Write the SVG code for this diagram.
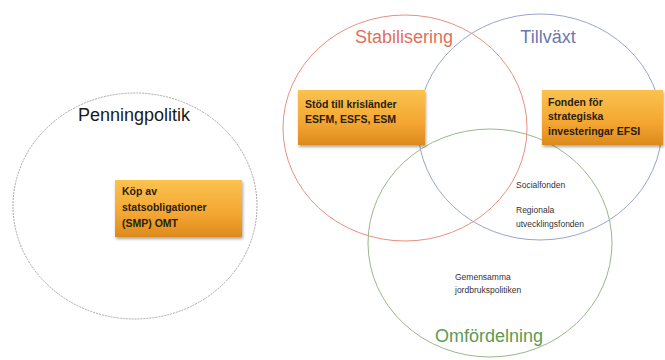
<svg xmlns="http://www.w3.org/2000/svg" width="665" height="360" viewBox="0 0 665 360">
  <defs>
    <linearGradient id="og" x1="0" y1="0" x2="0" y2="1">
      <stop offset="0" stop-color="#FBC24E"/>
      <stop offset="0.6" stop-color="#F3A632"/>
      <stop offset="1" stop-color="#DD8A1C"/>
    </linearGradient>
    <filter id="sh" x="-10%" y="-20%" width="125%" height="150%">
      <feGaussianBlur in="SourceAlpha" stdDeviation="1.5"/>
      <feOffset dx="1" dy="2"/>
      <feComponentTransfer><feFuncA type="linear" slope="0.35"/></feComponentTransfer>
      <feMerge><feMergeNode/><feMergeNode in="SourceGraphic"/></feMerge>
    </filter>
  </defs>
  <style>
    .ring { fill: none; stroke-width: 1; }
    .title { font-family: "Liberation Sans", Arial, sans-serif; font-size: 18px; text-anchor: middle; }
    .box { fill: url(#og); filter: url(#sh); }
    .bt { font-family: "Liberation Sans", Arial, sans-serif; font-size: 10.5px; font-weight: bold; fill: #2a2010; }
    .st { font-family: "Liberation Sans", Arial, sans-serif; font-size: 8.5px; fill: #333; }
  </style>
  <rect width="665" height="360" fill="#ffffff"/>

  <g id="penningpolitik">
    <ellipse class="ring" cx="135" cy="206" rx="122" ry="113" stroke="#a8a8a8" stroke-dasharray="2 1"/>
    <text class="title" x="134" y="121" fill="#1a1a1a">Penningpolitik</text>
    <rect class="box" x="115" y="180" width="127" height="57"/>
    <text class="bt" x="122" y="195">Köp av</text>
    <text class="bt" x="122" y="211">statsobligationer</text>
    <text class="bt" x="122" y="227">(SMP) OMT</text>
  </g>

  <g id="stabilisering">
    <ellipse class="ring" cx="405" cy="128" rx="122" ry="113" stroke="#E8907F"/>
    <text class="title" x="404" y="43" fill="#E0705C">Stabilisering</text>
  </g>

  <g id="tillvaxt">
    <ellipse class="ring" cx="540" cy="127" rx="122" ry="113" stroke="#9AA4CC"/>
    <text class="title" x="548" y="43" fill="#6B78AE">Tillväxt</text>
  </g>

  <g id="omfordelning">
    <ellipse class="ring" cx="490" cy="243" rx="122" ry="114" stroke="#98B88A"/>
    <text class="title" x="489" y="342" fill="#5E9A52">Omfördelning</text>
  </g>

  <g id="stod">
    <rect class="box" x="298" y="90" width="127" height="55"/>
    <text class="bt" x="305" y="108">Stöd till krisländer</text>
    <text class="bt" x="305" y="123">ESFM, ESFS, ESM</text>
  </g>

  <g id="fonden">
    <rect class="box" x="542" y="90" width="121" height="55"/>
    <text class="bt" x="548" y="106">Fonden för</text>
    <text class="bt" x="548" y="120">strategiska</text>
    <text class="bt" x="548" y="135">investeringar EFSI</text>
  </g>

  <g id="socialfonden">
    <text class="st" x="516" y="188">Socialfonden</text>
  </g>
  <g id="regionala">
    <text class="st" x="516" y="213">Regionala</text>
    <text class="st" x="516" y="227">utvecklingsfonden</text>
  </g>
  <g id="jordbruk">
    <text class="st" x="455" y="280">Gemensamma</text>
    <text class="st" x="455" y="293">jordbrukspolitiken</text>
  </g>

  <g id="connectors"></g>
</svg>
